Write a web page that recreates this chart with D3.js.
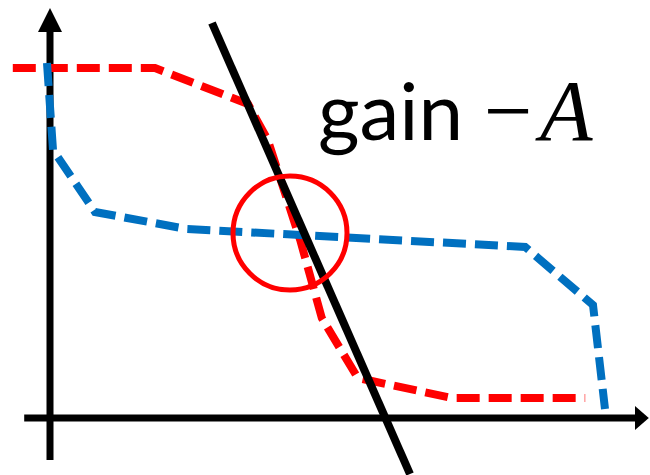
<!DOCTYPE html>
<html>
<head>
<meta charset="utf-8">
<script src="https://cdn.jsdelivr.net/npm/d3@7"></script>
<style>
  html, body { margin: 0; padding: 0; background: #fff; }
</style>
</head>
<body>
<div id="chart"></div>
<script>
// curve values (x in 0..100, y in 0..100)
var redX  = [-6.2, 17.5, 33.0, 36.3, 41.7, 45.3, 51.3, 67.0, 89.2];
var redY  = [87.5, 87.5, 78.5, 69.5, 44.5, 25.0, 10.0, 5.0, 5.0];
var blueX = [-0.5, 0.5, 7.5, 22.8, 41.7, 79.2, 90.5, 92.5];
var blueY = [88.75, 67.0, 51.5, 47.25, 45.75, 42.75, 28.25, 2.25];
// load line, gain -A
var loadX = [27, 60];
var loadY = [98.75, -14];
// operating point circle
var circX = 40, circY = 46.25, circR = 9.5;

var w = 650, h = 475;
var svg = d3.select("#chart").append("svg")
  .attr("width", w).attr("height", h);

var x = d3.scaleLinear().domain([0, 100]).range([50, 650]);
var y = d3.scaleLinear().domain([0, 100]).range([418, 18]);

var line = d3.line()
  .x(function(d) { return x(d[0]); })
  .y(function(d) { return y(d[1]); });

// axes
svg.append("line")
  .attr("x1", x(0)).attr("x2", x(0))
  .attr("y1", y(-10.5)).attr("y2", y(97))
  .attr("stroke", "#000").attr("stroke-width", 7);
svg.append("path")
  .attr("d", "M" + x(0) + "," + y(102.5) + " L" + (x(0) - 12) + "," + y(96.5) + " L" + (x(0) + 12) + "," + y(96.5) + " Z")
  .attr("fill", "#000");

svg.append("line")
  .attr("x1", x(-4.3)).attr("x2", x(98))
  .attr("y1", y(0)).attr("y2", y(0))
  .attr("stroke", "#000").attr("stroke-width", 7);
svg.append("path")
  .attr("d", "M" + x(99.8) + "," + y(0) + " L" + x(97.5) + "," + (y(0) - 12) + " L" + x(97.5) + "," + (y(0) + 12) + " Z")
  .attr("fill", "#000");

// red curve
svg.append("path")
  .datum(d3.zip(redX, redY))
  .attr("d", line)
  .attr("fill", "none")
  .attr("stroke", "#ff0000")
  .attr("stroke-width", 8)
  .attr("stroke-dasharray", "23,9");

// blue curve
svg.append("path")
  .datum(d3.zip(blueX, blueY))
  .attr("d", line)
  .attr("fill", "none")
  .attr("stroke", "#0070c0")
  .attr("stroke-width", 8)
  .attr("stroke-dasharray", "23,9");

// black line
svg.append("path")
  .datum(d3.zip(loadX, loadY))
  .attr("d", line)
  .attr("fill", "none")
  .attr("stroke", "#000")
  .attr("stroke-width", 8);

// circle
svg.append("circle")
  .attr("cx", x(circX)).attr("cy", y(circY))
  .attr("r", x(circR) - x(0))
  .attr("fill", "none")
  .attr("stroke", "#ff0000")
  .attr("stroke-width", 5);

// label
var label = svg.append("text")
  .attr("x", 318).attr("y", 140)
  .attr("fill", "#000");
label.append("tspan")
  .attr("font-family", "Lato, 'Open Sans', sans-serif")
  .attr("font-size", 80)
  .text("gain ");
label.append("tspan")
  .attr("x", 484)
  .attr("font-family", "'Liberation Serif', serif")
  .attr("font-size", 86)
  .text("\u2212");
label.append("tspan")
  .attr("x", 540)
  .attr("font-family", "'Liberation Serif', serif")
  .attr("font-style", "italic")
  .attr("font-size", 86)
  .text("A");
</script>
</body>
</html>
